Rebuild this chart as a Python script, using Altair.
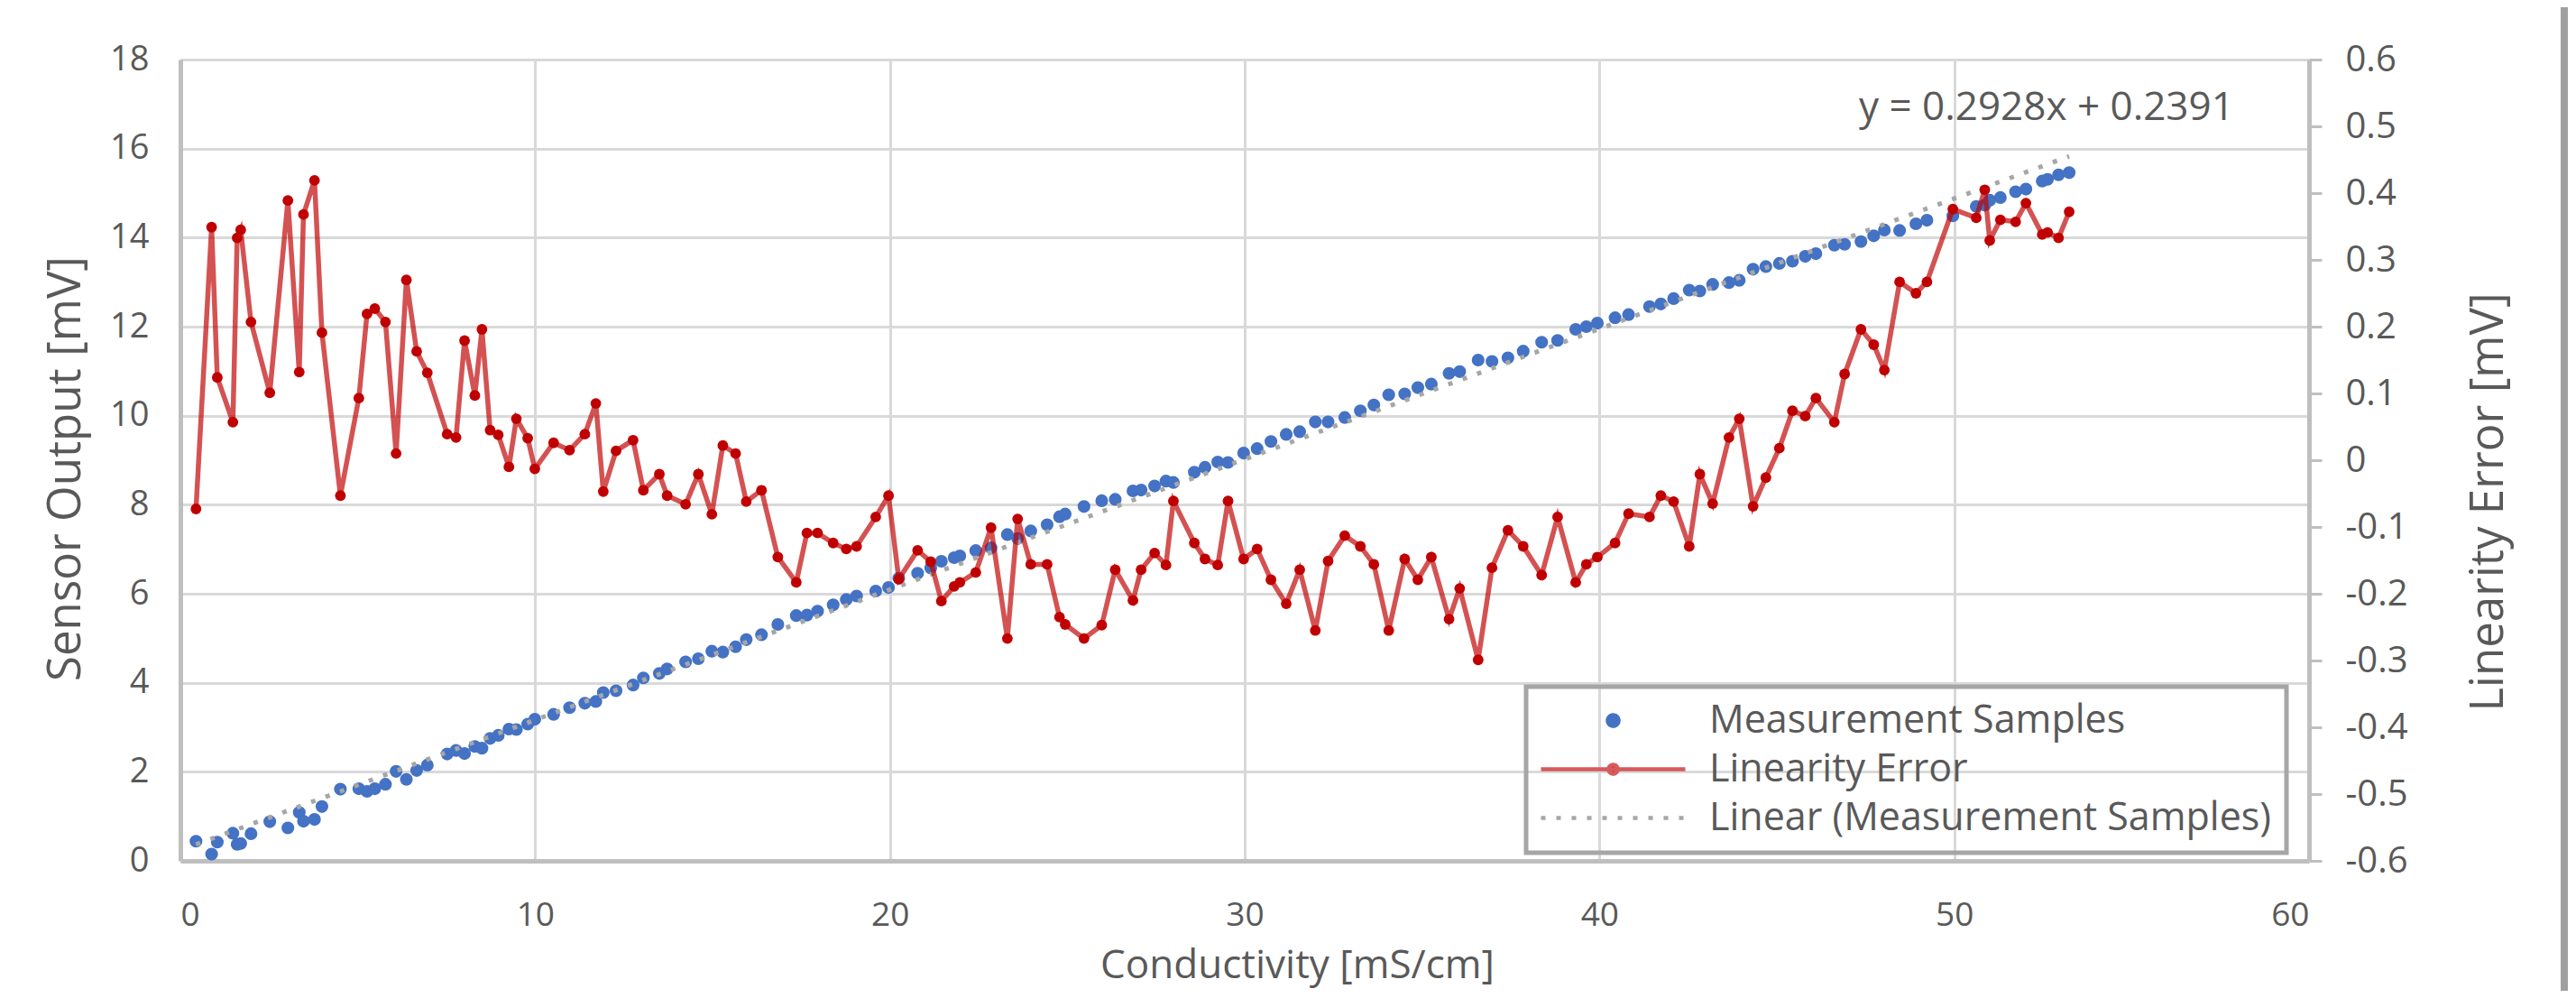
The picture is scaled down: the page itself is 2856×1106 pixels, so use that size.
import altair as alt
import pandas as pd

# ---------------- data ----------------
conductivity = [
    0.44, 0.88, 1.04, 1.48, 1.60, 1.70, 1.99, 2.52, 3.03, 3.35,
    3.47, 3.78, 3.99, 4.51, 5.03, 5.26, 5.48, 5.78, 6.08, 6.37,
    6.66, 6.96, 7.52, 7.77, 8.01, 8.30, 8.50, 8.73, 8.96, 9.26,
    9.47, 9.79, 9.99, 10.52, 10.97, 11.40, 11.71, 11.92, 12.28, 12.76,
    13.05, 13.50, 13.72, 14.24, 14.60, 14.98, 15.29, 15.65, 15.95, 16.38,
    16.84, 17.36, 17.66, 17.96, 18.40, 18.77, 19.06, 19.60, 19.96, 20.25,
    20.78, 21.15, 21.45, 21.81, 21.97, 22.42, 22.85, 23.31, 23.60, 23.97,
    24.43, 24.78, 24.94, 25.47, 25.97, 26.35, 26.85, 27.08, 27.46, 27.78,
    27.99, 28.58, 28.88, 29.24, 29.53, 29.97, 30.35, 30.74, 31.17, 31.55,
    31.99, 32.35, 32.82, 33.26, 33.64, 34.06, 34.51, 34.88, 35.26, 35.76,
    36.06, 36.58, 36.97, 37.42, 37.85, 38.37, 38.82, 39.33, 39.63, 39.94,
    40.44, 40.82, 41.41, 41.73, 42.09, 42.53, 42.83, 43.19, 43.65, 43.94,
    44.33, 44.69, 45.07, 45.44, 45.80, 46.10, 46.62, 46.91, 47.37, 47.73,
    48.03, 48.46, 48.92, 49.23, 49.96, 50.62, 50.86, 51.00, 51.30, 51.73,
    52.02, 52.48, 52.63, 52.94, 53.24,
]

sensor_output = [
    0.44, 0.15, 0.42, 0.62, 0.37, 0.39, 0.61, 0.88, 0.74, 1.09,
    0.89, 0.93, 1.22, 1.61, 1.62, 1.56, 1.62, 1.72, 2.01, 1.83,
    2.03, 2.15, 2.40, 2.48, 2.41, 2.57, 2.53, 2.75, 2.82, 2.96,
    2.95, 3.07, 3.18, 3.29, 3.44, 3.54, 3.58, 3.78, 3.82, 3.95,
    4.11, 4.21, 4.31, 4.47, 4.54, 4.71, 4.69, 4.81, 4.97, 5.08,
    5.31, 5.51, 5.52, 5.61, 5.75, 5.87, 5.95, 6.06, 6.14, 6.35,
    6.46, 6.58, 6.73, 6.81, 6.85, 6.97, 7.03, 7.33, 7.24, 7.41,
    7.55, 7.73, 7.79, 7.96, 8.09, 8.12, 8.31, 8.33, 8.42, 8.53,
    8.50, 8.73, 8.84, 8.96, 8.95, 9.16, 9.26, 9.42, 9.58, 9.64,
    9.86, 9.86, 9.96, 10.11, 10.24, 10.47, 10.49, 10.63, 10.71, 10.95,
    10.99, 11.25, 11.22, 11.30, 11.45, 11.65, 11.69, 11.94, 12.00, 12.08,
    12.20, 12.27, 12.45, 12.51, 12.63, 12.82, 12.80, 12.95, 12.99, 13.04,
    13.29, 13.35, 13.42, 13.47, 13.58, 13.64, 13.83, 13.85, 13.91, 14.04,
    14.17, 14.16, 14.31, 14.39, 14.49, 14.70, 14.73, 14.84, 14.90, 15.03,
    15.09, 15.27, 15.31, 15.41, 15.46,
]

linearity_error = [
    -0.073, 0.349, 0.124, 0.057, 0.333, 0.345, 0.207, 0.101, 0.389, 0.132,
    0.368, 0.419, 0.191, -0.053, 0.093, 0.219, 0.227, 0.207, 0.010, 0.270,
    0.163, 0.131, 0.039, 0.034, 0.179, 0.097, 0.196, 0.045, 0.038, -0.010,
    0.062, 0.033, -0.013, 0.026, 0.015, 0.039, 0.085, -0.047, 0.014, 0.030,
    -0.045, -0.021, -0.053, -0.066, -0.021, -0.081, 0.022, 0.010, -0.062, -0.045,
    -0.145, -0.183, -0.109, -0.109, -0.124, -0.133, -0.129, -0.085, -0.053, -0.178,
    -0.135, -0.152, -0.211, -0.189, -0.183, -0.168, -0.101, -0.267, -0.088, -0.156,
    -0.156, -0.235, -0.246, -0.267, -0.247, -0.164, -0.210, -0.164, -0.139, -0.157,
    -0.061, -0.124, -0.148, -0.157, -0.061, -0.148, -0.133, -0.179, -0.215, -0.164,
    -0.255, -0.151, -0.113, -0.129, -0.156, -0.255, -0.148, -0.179, -0.145, -0.238,
    -0.192, -0.299, -0.161, -0.105, -0.129, -0.172, -0.085, -0.183, -0.156, -0.145,
    -0.124, -0.080, -0.085, -0.053, -0.062, -0.129, -0.021, -0.065, 0.034, 0.062,
    -0.069, -0.026, 0.018, 0.074, 0.066, 0.093, 0.057, 0.129, 0.196, 0.173,
    0.135, 0.267, 0.250, 0.267, 0.376, 0.363, 0.405, 0.329, 0.360, 0.357,
    0.385, 0.338, 0.341, 0.333, 0.372,
]

series_names = ["Measurement Samples", "Linearity Error", "Linear (Measurement Samples)"]
x_ticks = [0, 10, 20, 30, 40, 50, 60]
left_ticks = [0, 2, 4, 6, 8, 10, 12, 14, 16, 18]
right_ticks = [-0.6, -0.5, -0.4, -0.3, -0.2, -0.1, 0, 0.1, 0.2, 0.3, 0.4, 0.5, 0.6]
equation_label = ["y = 0.2928x + 0.2391"]
equation_pos_x = [52.6]
equation_pos_y = [16.9]

# ---------------- styling ----------------
FONT = "Open Sans"
TXT = "#595959"
AXIS_LINE = "#BFBFBF"
GRID = "#D9D9D9"
BLUE = "#4472C4"
RED = "#C00000"
TREND = "#A6A6A6"

df = pd.DataFrame({"x": conductivity, "y": sensor_output, "err": linearity_error})
eq_df = pd.DataFrame({"x": equation_pos_x, "y": equation_pos_y, "label": equation_label})
legend_df = pd.DataFrame({"series": series_names})

x_scale = alt.Scale(domain=[0, 60], nice=False, zero=False)
left_scale = alt.Scale(domain=[0, 18], nice=False, zero=False)
right_scale = alt.Scale(domain=[-0.6, 0.6], nice=False, zero=False)

x_axis = alt.Axis(
    values=x_ticks, grid=True, gridColor=GRID, gridWidth=3,
    domainColor=AXIS_LINE, domainWidth=5, ticks=False,
    labelFontSize=37, labelColor=TXT, labelPadding=42, labelFont=FONT,
    title="Conductivity [mS/cm]", titleFontSize=44, titleColor=TXT,
    titleFontWeight="normal", titleFont=FONT, titlePadding=16, titleX=1238,
)
left_axis = alt.Axis(
    values=left_ticks, grid=True, gridColor=GRID, gridWidth=3,
    domainColor=AXIS_LINE, domainWidth=5, ticks=False,
    labelFontSize=38, labelColor=TXT, labelPadding=35, labelFont=FONT,
    title="Sensor Output [mV]", titleFontSize=51, titleColor=TXT,
    titleFontWeight="normal", titleFont=FONT, titlePadding=22, titleY=453,
)
right_axis = alt.Axis(
    orient="right", values=right_ticks, grid=False,
    domainColor=AXIS_LINE, domainWidth=5, ticks=True, tickSize=14,
    tickColor=AXIS_LINE, tickWidth=3,
    labelFontSize=40, labelColor=TXT, labelPadding=26, labelFont=FONT,
    labelAlign="left",
    labelExpr="(datum.value < 0 ? '-' : '') + format(abs(datum.value), '.1~f')",
    title="Linearity Error [mV]", titleFontSize=51, titleColor=TXT,
    titleFontWeight="normal", titleFont=FONT, titlePadding=116, titleAngle=270,
    titleY=490,
)

base = alt.Chart(df)

blue_pts = base.mark_circle(size=200, color=BLUE, opacity=1).encode(
    x=alt.X("x:Q", scale=x_scale, axis=x_axis),
    y=alt.Y("y:Q", scale=left_scale, axis=left_axis),
)

trend = base.transform_regression("x", "y").mark_line(
    color=TREND, strokeWidth=5, strokeDash=[5, 12]
).encode(
    x=alt.X("x:Q", scale=x_scale),
    y=alt.Y("y:Q", scale=left_scale),
)

equation = alt.Chart(eq_df).mark_text(
    font=FONT, fontSize=44, color=TXT, align="center", baseline="middle"
).encode(
    x=alt.X("x:Q", scale=x_scale),
    y=alt.Y("y:Q", scale=left_scale),
    text="label:N",
)

# legend carrier (kept off-canvas); its scales build the legend entries
sym_blue = "M-0.6,0A0.6,0.6,0,1,0,0.6,0A0.6,0.6,0,1,0,-0.6,0Z"
sym_red = "M-8,0H8M-0.5,0A0.5,0.5,0,1,0,0.5,0A0.5,0.5,0,1,0,-0.5,0Z"
sym_gray = "M-8,0H8"

legend = alt.Legend(
    title=None, orient="none", legendX=1492, legendY=695, direction="vertical",
    symbolSize=400, symbolStrokeWidth=4.5, symbolOffset=59, symbolOpacity=1,
    labelOffset=85, labelFontSize=43, labelFont=FONT, labelColor=TXT, labelLimit=0,
    rowPadding=10, padding=16, strokeColor="#A6A6A6",
)

carrier = alt.Chart(legend_df).mark_point().encode(
    x=alt.value(-3000), y=alt.value(-3000),
    fill=alt.Fill("series:N", scale=alt.Scale(domain=series_names, range=[BLUE, RED, TREND]), legend=legend),
    stroke=alt.Stroke("series:N", scale=alt.Scale(domain=series_names, range=[BLUE, "#D65A5C", TREND]), legend=legend),
    shape=alt.Shape("series:N", scale=alt.Scale(domain=series_names, range=[sym_blue, sym_red, sym_gray]), legend=legend),
    strokeDash=alt.StrokeDash("series:N", scale=alt.Scale(domain=series_names, range=[[1, 0], [1, 0], [5, 12]]), legend=legend),
)

border = alt.Chart(legend_df).mark_rule(color="#A0A0A0", strokeWidth=8).encode(
    x=alt.value(2643), y=alt.value(-66), y2=alt.value(1040)
)

left_layer = alt.layer(blue_pts, trend, equation, carrier, border)

red_line = base.mark_line(color=RED, strokeWidth=5.5, opacity=0.68).encode(
    x=alt.X("x:Q", scale=x_scale),
    y=alt.Y("err:Q", scale=right_scale, axis=right_axis),
)
red_pts = base.mark_circle(size=140, color=RED, opacity=1).encode(
    x=alt.X("x:Q", scale=x_scale),
    y=alt.Y("err:Q", scale=right_scale),
)
right_layer = alt.layer(red_line, red_pts)

chart = alt.layer(left_layer, right_layer).resolve_scale(y="independent").properties(
    width=2360, height=888,
    autosize=alt.AutoSizeParams(type="none"),
    padding={"left": 192, "top": 58, "right": 288, "bottom": 144},
    background="white",
).configure_view(stroke=None).configure_legend(strokeWidth=5)

chart.save("out.html", embed_options={"renderer": "svg", "actions": False})
